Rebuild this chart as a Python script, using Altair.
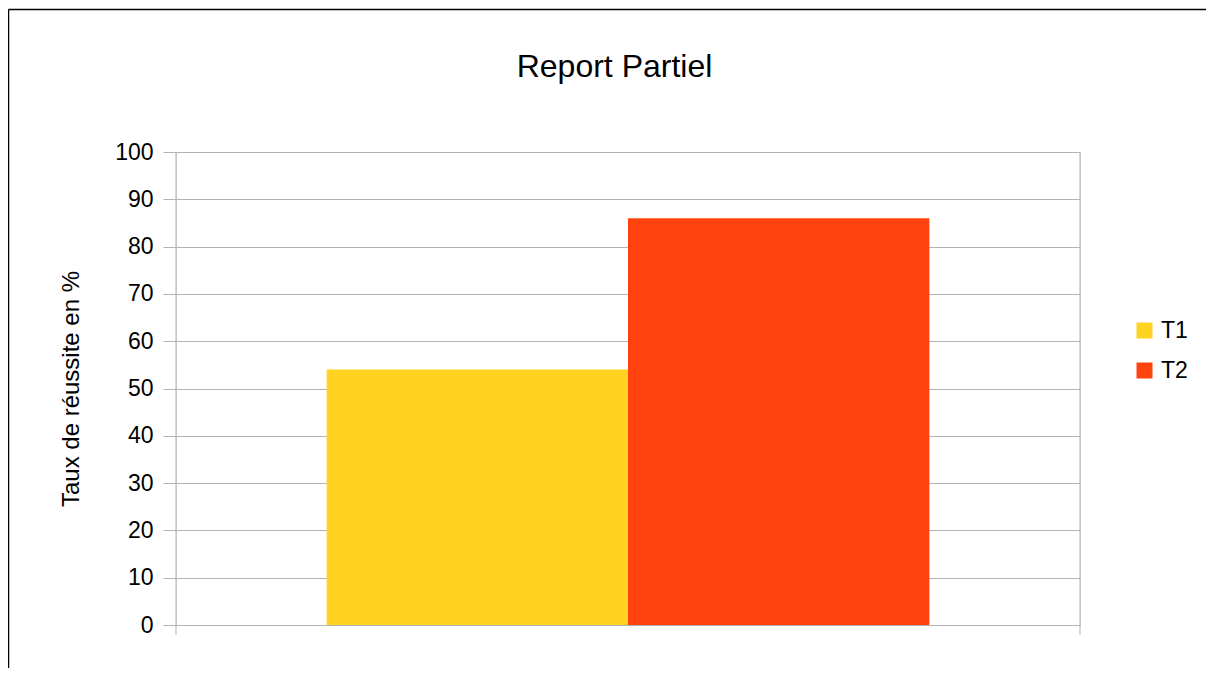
import altair as alt
import pandas as pd

# ---- data ----
series = ["T1", "T2"]
values = [54, 86]
colors = ["#ffd320", "#ff420e"]
y_ticks = [0, 10, 20, 30, 40, 50, 60, 70, 80, 90, 100]
title_text = ["Report Partiel"]
y_title = "Taux de réussite en %"

FONT = "Liberation Sans"
GRID = "#b3b3b3"
W, H = 904, 473
PL, PT, PR, PB = 168, 144, 126, 43
TW, TH = PL + W + PR, PT + H + PB

df = pd.DataFrame({"serie": series, "taux": values})
one = alt.Data(values=[{"t": title_text[0]}])

bars = alt.Chart(df).mark_bar(strokeWidth=0).encode(
    x=alt.X(
        "serie:N",
        sort=series,
        scale=alt.Scale(paddingInner=0, paddingOuter=0.5),
        axis=alt.Axis(labels=False, ticks=False, title=None, grid=False,
                      domainColor=GRID, domainWidth=1),
    ),
    y=alt.Y(
        "taux:Q",
        scale=alt.Scale(domain=[0, 100], nice=False),
        axis=alt.Axis(
            values=y_ticks, title=y_title, grid=True, gridColor=GRID, gridWidth=1,
            domain=False, tickColor=GRID, tickSize=13, tickWidth=1,
            labelPadding=10, labelFontSize=23, labelFont=FONT, labelColor="black",
            titleFont=FONT, titleFontSize=24, titleFontWeight="normal",
            titleColor="black", titlePadding=31,
        ),
    ),
    color=alt.Color(
        "serie:N",
        scale=alt.Scale(domain=series, range=colors),
        legend=alt.Legend(
            title=None, orient="none", legendX=957, legendY=167,
            symbolType="square", symbolSize=256, symbolStrokeWidth=0,
            symbolOpacity=1, labelFontSize=23, labelFont=FONT,
            labelColor="black", labelOffset=5, rowPadding=16, padding=0,
        ),
    ),
)

left_rule = alt.Chart(one).mark_rule(color=GRID, strokeWidth=1).encode(
    x=alt.value(0), y=alt.value(0), y2=alt.value(H + 10)
)
right_rule = alt.Chart(one).mark_rule(color=GRID, strokeWidth=1).encode(
    x=alt.value(W), y=alt.value(0), y2=alt.value(H + 10)
)
border_top = alt.Chart(one).mark_rule(color="black", strokeWidth=1.5).encode(
    x=alt.value(-PL + 0.5), x2=alt.value(TW - PL), y=alt.value(-PT + 1.5)
)
border_left = alt.Chart(one).mark_rule(color="black", strokeWidth=1.5).encode(
    x=alt.value(-PL + 0.5), y=alt.value(-PT + 1.5), y2=alt.value(TH - PT)
)
title_mark = alt.Chart(one).mark_text(
    font=FONT, fontSize=32, align="center", baseline="alphabetic", color="black"
).encode(x=alt.value(438.5), y=alt.value(-75), text="t:N")

chart = alt.layer(
    border_top, border_left, left_rule, right_rule, bars, title_mark
).properties(
    width=W, height=H,
    autosize=alt.AutoSizeParams(type="none"),
    padding={"left": PL, "top": PT, "right": PR, "bottom": PB},
).configure_view(stroke=None).configure(background="white")

chart.save("out.html", embed_options={"renderer": "svg", "actions": False})
